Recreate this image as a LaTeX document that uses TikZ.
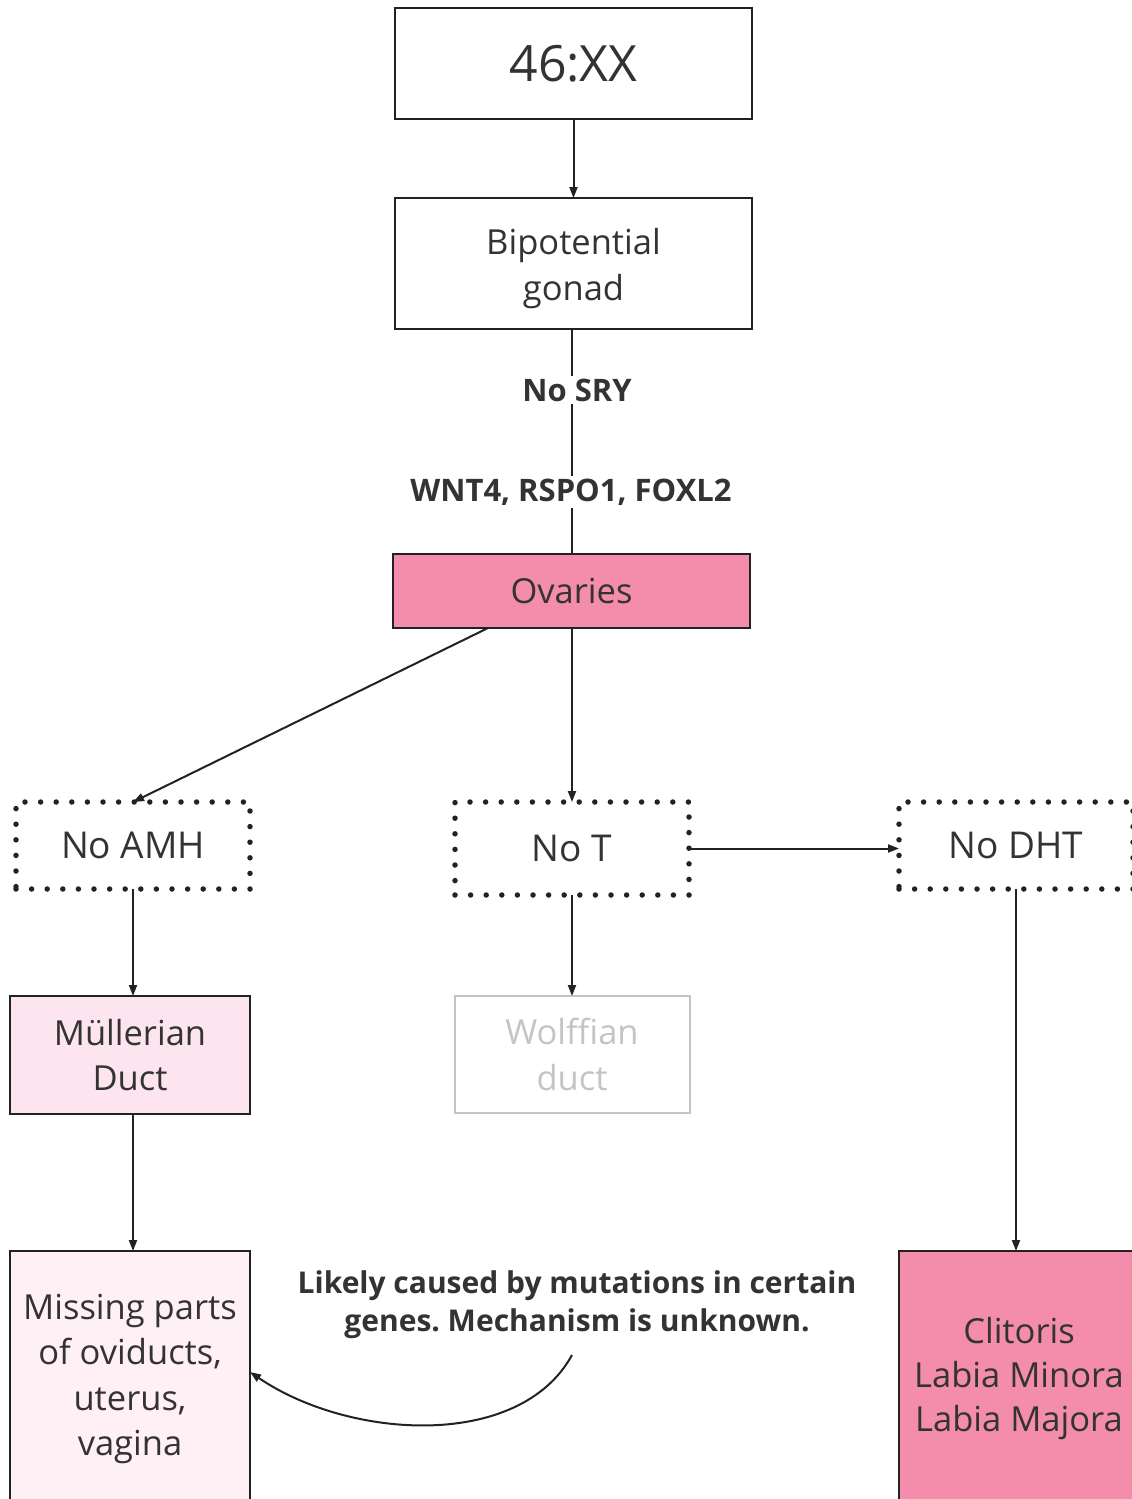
\documentclass[tikz,border=0pt]{standalone}
\usepackage{fontspec}
\setmainfont{Open Sans}
\usetikzlibrary{arrows.meta}
\frenchspacing
\definecolor{ink}{HTML}{333333}
\definecolor{edge}{HTML}{222222}
\definecolor{rose}{HTML}{F48CAB}
\definecolor{blush}{HTML}{FCE5EE}
\definecolor{paleblush}{HTML}{FFF0F5}
\definecolor{faded}{HTML}{C4C4C4}
\newcommand{\lowerline}[1]{\raisebox{-5pt}[\height][\depth]{#1}}
\tikzset{
  box/.style={draw=edge, line width=2pt, inner sep=0pt, outer sep=0pt, align=center, text=ink},
  dotbox/.style={draw=edge, line width=5.5pt, line cap=round, dash pattern=on 0pt off 15.6pt,
                 inner sep=0pt, outer sep=0pt, align=center, text=ink,
                 font=\fontsize{37}{45}\selectfont},
  conn/.style={draw=edge, line width=2pt, -{Triangle[length=11pt,width=8pt]}},
  plain/.style={draw=edge, line width=2pt},
  midtxt/.style={font=\fontsize{34.5}{45.5}\selectfont, text=ink},
  lbl/.style={fill=white, inner sep=3pt, text=ink, font=\bfseries\fontsize{31}{38}\selectfont},
}
\begin{document}
\begin{tikzpicture}[x=1pt,y=-1pt]
\useasboundingbox (0,0) rectangle (1132,1499);
\clip (0,0) rectangle (1132,1499);

% top chain
\node[box, minimum width=357pt, minimum height=111pt, font=\fontsize{50}{54}\selectfont] (xx) at (573.5,63.5) {46:XX};
\node[box, minimum width=357pt, minimum height=131pt, midtxt] (gonad) at (573.5,263.5) {\lowerline{Bipotential}\\\lowerline{gonad}};
\node[box, fill=rose, minimum width=357pt, minimum height=74pt, midtxt] (ovaries) at (571.5,591) {Ovaries};

% hormone boxes
\node[dotbox, minimum width=234pt, minimum height=87pt] (amh) at (133,845.5) {No AMH};
\node[dotbox, minimum width=234pt, minimum height=93pt] (not) at (572,848.5) {No T};
\node[dotbox, minimum width=234pt, minimum height=87pt] (dht) at (1016,845.5) {No DHT};

% ducts
\node[box, fill=blush, minimum width=240pt, minimum height=118pt, midtxt] (mull) at (130,1055) {Müllerian\\Duct};
\node[box, draw=faded, minimum width=235pt, minimum height=117pt, midtxt, text=faded] (wolff) at (572,1054.5) {Wolffian\\duct};

% outcomes
\node[box, fill=paleblush, minimum width=240pt, minimum height=256pt, midtxt] (miss) at (130,1379) {Missing parts\\of oviducts,\\uterus,\\vagina};
\node[box, fill=rose, minimum width=240pt, minimum height=256pt, midtxt,
      font=\fontsize{34.5}{44}\selectfont] (clit) at (1019,1379) {Clitoris\\Labia Minora\\Labia Majora};

% note
\node[text=ink, align=center, font=\bfseries\fontsize{30}{38}\selectfont] (note) at (577,1305)
  {Likely caused by mutations in certain\\genes. Mechanism is unknown.};
\coordinate (noteend) at (572,1355);

% connectors
\draw[conn] (xx) -- (gonad);
\draw[plain] (gonad.south -| ovaries.north) -- (ovaries.north);
\node[lbl] (sry) at (577,390) {No SRY};
\node[lbl] (wnt) at (571,492) {WNT4, RSPO1, FOXL2};
\coordinate (ovl) at (488,628);
\draw[conn] (ovl) -- (amh.north);
\draw[conn] (ovaries.south -| not.north) -- (not.north);
\draw[conn] (not.east) -- (not.east -| dht.west);
\draw[conn] (amh.south) -- (amh.south |- mull.north);
\draw[conn] (not.south) -- (not.south |- wolff.north);
\draw[conn] (mull.south -| amh.south) -- (amh.south |- miss.north);
\draw[conn] (dht.south) -- (dht.south |- clit.north);
\draw[draw=edge, line width=2pt, -{Triangle[length=11pt,width=8pt]}]
  (noteend) .. controls (520,1450) and (350,1440) .. (miss.east |- 0,1372);
\end{tikzpicture}
\end{document}
